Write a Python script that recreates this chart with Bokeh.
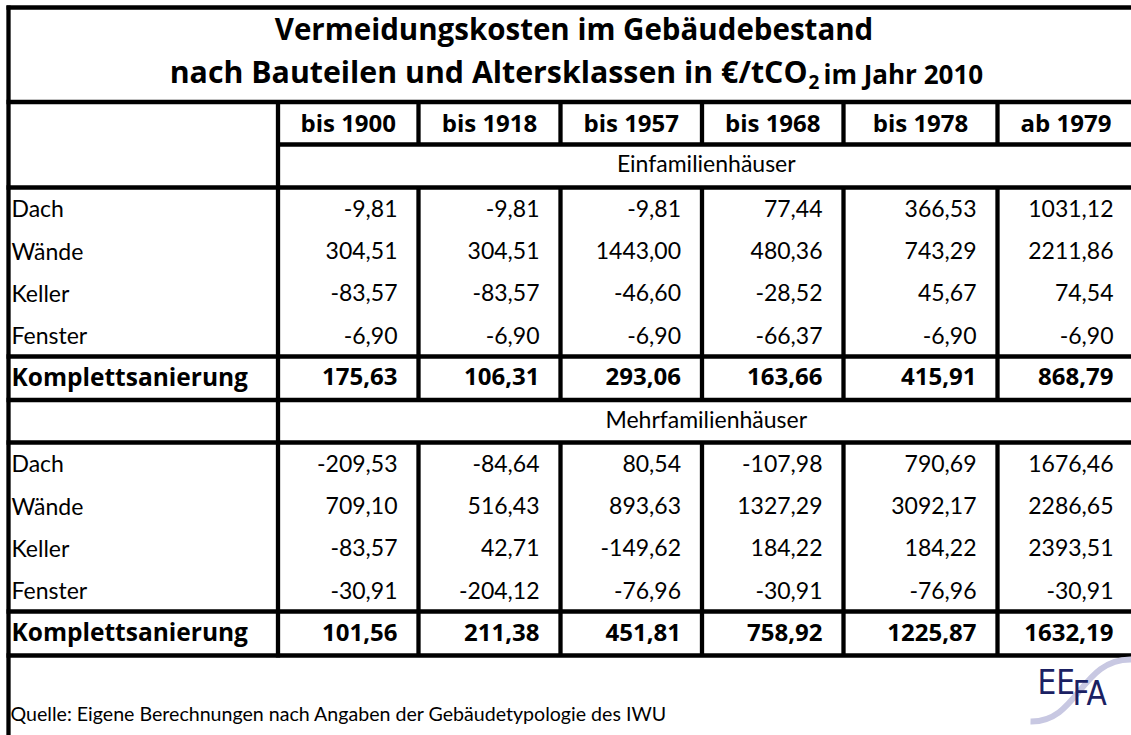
from bokeh.plotting import figure
from bokeh.models import Range1d, ColumnDataSource
from bokeh.core.properties import value
from bokeh.embed import file_html
from bokeh.resources import INLINE

# ---------------- data ----------------
title1 = "Vermeidungskosten im Gebäudebestand"
title2a = "nach Bauteilen und Altersklassen in €/tCO"
title2b = "2"
title2c = "im Jahr 2010"
columns = ["bis 1900", "bis 1918", "bis 1957", "bis 1968", "bis 1978", "ab 1979"]
components = ["Dach", "Wände", "Keller", "Fenster"]
total_label = "Komplettsanierung"
section_names = ["Einfamilienhäuser", "Mehrfamilienhäuser"]

efh_dach = [-9.81, -9.81, -9.81, 77.44, 366.53, 1031.12]
efh_waende = [304.51, 304.51, 1443.00, 480.36, 743.29, 2211.86]
efh_keller = [-83.57, -83.57, -46.60, -28.52, 45.67, 74.54]
efh_fenster = [-6.90, -6.90, -6.90, -66.37, -6.90, -6.90]
efh_komplett = [175.63, 106.31, 293.06, 163.66, 415.91, 868.79]

mfh_dach = [-209.53, -84.64, 80.54, -107.98, 790.69, 1676.46]
mfh_waende = [709.10, 516.43, 893.63, 1327.29, 3092.17, 2286.65]
mfh_keller = [-83.57, 42.71, -149.62, 184.22, 184.22, 2393.51]
mfh_fenster = [-30.91, -204.12, -76.96, -30.91, -76.96, -30.91]
mfh_komplett = [101.56, 211.38, 451.81, 758.92, 1225.87, 1632.19]

source_text = "Quelle: Eigene Berechnungen nach Angaben der Gebäudetypologie des IWU"
logo_left = "EE"
logo_right = "FA"

sections = [
    (section_names[0], [efh_dach, efh_waende, efh_keller, efh_fenster], efh_komplett),
    (section_names[1], [mfh_dach, mfh_waende, mfh_keller, mfh_fenster], mfh_komplett),
]

def fmt(v):
    return f"{v:.2f}".replace(".", ",")

# ---------------- layout (reference pixel coordinates) ----------------
REG = "Lato"
BOLD = "Open Sans"
X_LEFT = 8
X_RIGHT = 1140
col_edges = [277.5, 418, 560, 701.5, 843, 997, 1134]
Y_TOP = 7
Y_TITLE = 101.5
Y_HEAD = 144
Y_SUB1 = 187
ROW_H = 42.25
BASE_SHIFT = 0.45  # fraction of font size between drawing anchor and visible baseline

p = figure(width=1131, height=735, x_range=Range1d(0, 1131), y_range=Range1d(735, 0),
           output_backend="svg", toolbar_location=None, min_border=0)
p.axis.visible = False
p.grid.visible = False
p.outline_line_color = None
p.background_fill_color = "white"
p.border_fill_color = "white"

sec_layout = []
sub_top = Y_HEAD
sub_bot = Y_SUB1
for si in range(2):
    rows = []
    yy = sub_bot
    for r in range(4):
        rows.append((yy, yy + ROW_H))
        yy += ROW_H
    k_top = yy
    k_bot = yy + (43.5 if si == 0 else 44)
    sec_layout.append((sub_top, sub_bot, rows, (k_top, k_bot)))
    sub_top = k_bot
    sub_bot = k_bot + 42.5
Y_BOTTOM = sec_layout[1][3][1]

# ---------------- lines ----------------
x0s, y0s, x1s, y1s = [], [], [], []
def seg(a, b, c, d):
    x0s.append(a); y0s.append(b); x1s.append(c); y1s.append(d)

for yl in [Y_TOP, Y_TITLE, Y_SUB1]:
    seg(X_LEFT - 2, yl, X_RIGHT, yl)
seg(col_edges[0], Y_HEAD, X_RIGHT, Y_HEAD)
for si in range(2):
    sub_top, sub_bot, rows, (k_top, k_bot) = sec_layout[si]
    seg(X_LEFT - 2, k_top, X_RIGHT, k_top)
    seg(X_LEFT - 2, k_bot, X_RIGHT, k_bot)
    if si == 1:
        seg(X_LEFT - 2, sub_bot, X_RIGHT, sub_bot)
seg(X_LEFT, Y_TOP - 2, X_LEFT, 740)
seg(col_edges[0], Y_TITLE, col_edges[0], Y_BOTTOM + 2)
for xe in col_edges[1:-1]:
    seg(xe, Y_TITLE, xe, Y_HEAD)
    for si in range(2):
        sub_top, sub_bot, rows, (k_top, k_bot) = sec_layout[si]
        seg(xe, sub_bot, xe, k_bot)

p.segment(x0=x0s, y0=y0s, x1=x1s, y1=y1s, line_color="black", line_width=4.3)

# ---------------- texts ----------------
def add_text(xs, ys, texts, size, bold=False, align="left", color="black", font=None):
    if font is None:
        font = BOLD if bold else REG
    ys = [y - BASE_SHIFT * size for y in ys]
    src = ColumnDataSource(dict(x=xs, y=ys, t=texts))
    p.text(x="x", y="y", text="t", source=src, text_font=value(font),
           text_font_size=f"{size}px", text_font_style="bold" if bold else "normal",
           text_align=align, text_baseline="alphabetic", text_color=color)

# title
add_text([573.5], [41], [title1], 29.5, bold=True, align="center")
add_text([807], [85], [title2a], 30.3, bold=True, align="right")
add_text([808], [90], [title2b], 19, bold=True, align="left")
add_text([823], [85], [title2c], 26, bold=True, align="left")

# column headers
centers = [(col_edges[i] + col_edges[i + 1]) / 2 for i in range(6)]
add_text(centers, [133] * 6, columns, 24, bold=True, align="center")

sub_center = (col_edges[0] + col_edges[-1]) / 2
lab_x, lab_y, lab_t = [], [], []
val_x, val_y, val_t = [], [], []
tl_x, tl_y, tl_t = [], [], []
tv_x, tv_y, tv_t = [], [], []
sub_y = []
for si, (name, comp_vals, komplett) in enumerate(sections):
    sub_top, sub_bot, rows, (k_top, k_bot) = sec_layout[si]
    sub_y.append(sub_top + 29)
    for ci, vals in enumerate(comp_vals):
        top, bot = rows[ci]
        lab_x.append(11); lab_y.append(bot - 11); lab_t.append(components[ci])
        for j, v in enumerate(vals):
            val_x.append(col_edges[j + 1] - 21); val_y.append(bot - 11); val_t.append(fmt(v))
    tl_x.append(11); tl_y.append(k_bot - 12.5); tl_t.append(total_label)
    for j, v in enumerate(komplett):
        tv_x.append(col_edges[j + 1] - 21); tv_y.append(k_bot - 12.5); tv_t.append(fmt(v))

add_text([sub_center, sub_center], sub_y, section_names, 23, align="center")
add_text(lab_x, lab_y, lab_t, 23)
add_text(val_x, val_y, val_t, 23, align="right")
add_text(tl_x, tl_y, tl_t, 24.5, bold=True)
add_text(tv_x, tv_y, tv_t, 24, bold=True, align="right")

# source
add_text([10], [722], [source_text], 19.6)

# logo
p.bezier(x0=[1030], y0=[721], x1=[1131], y1=[659], cx0=[1078], cy0=[722], cx1=[1080], cy1=[658],
         line_color="#c8c8e2", line_width=6)
add_text([1037], [697], [logo_left], 33, color="#1b2163", font="'DejaVu Sans Condensed', 'DejaVu Sans'")
add_text([1072], [708], [logo_right], 33, color="#1b2163", font="'DejaVu Sans Condensed', 'DejaVu Sans'")

open("out.html", "w").write(file_html(p, INLINE))
